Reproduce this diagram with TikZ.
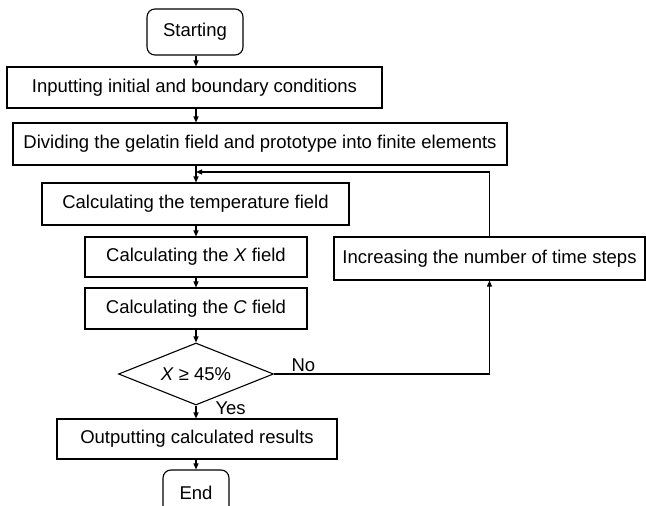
\documentclass[tikz,border=0pt]{standalone}
\usepackage{fontspec}
\setmainfont{Liberation Sans}
\usetikzlibrary{arrows.meta,shapes.geometric,positioning}

\begin{document}
\begin{tikzpicture}[x=1pt, y=-1pt, line width=1.1pt,
    every node/.style={font=\fontsize{18.5}{22}\selectfont},
    box/.style={draw, rectangle, inner sep=0pt},
    term/.style={box, rounded corners=8pt},
    cond/.style={draw, diamond, aspect=2.5, inner sep=0pt, minimum width=155pt, minimum height=62pt},
    tag/.style={inner sep=2pt},
    arr/.style={-{Triangle[length=6pt, width=5pt]}}]

    \useasboundingbox (0,0) rectangle (646,506);
    \coordinate (col) at (196,0);

    \node[term, minimum width=96pt, minimum height=46pt] (start) at (195,32) {Starting};
    \node[box, minimum width=375pt, minimum height=41pt] (input) at (194.5,87.5) {Inputting initial and boundary conditions};
    \node[box, minimum width=494pt, minimum height=42pt] (divide) at (260,144) {Dividing the gelatin field and prototype into finite elements};
    \node[box, minimum width=307pt, minimum height=42pt] (temp) at (195.5,204) {Calculating the temperature field};
    \node[box, minimum width=222pt, minimum height=40pt] (xfield) at (196,257) {Calculating the \textit{X} field};
    \node[box, minimum width=222pt, minimum height=41pt] (cfield) at (196,308.5) {Calculating the \textit{C} field};
    \node[box, minimum width=311pt, minimum height=43pt] (incr) at (489.5,258.5) {Increasing the number of time steps};
    \node[cond] (check) at (196,374) {\textit{X} ≥ 45\%};
    \node[box, minimum width=280pt, minimum height=40pt] (output) at (197,439) {Outputting calculated results};
    \node[term, minimum width=66pt, minimum height=46pt] (stop) at (196,493) {End};

    \foreach \a/\b in {start/input, input/divide, divide/temp, temp/xfield, xfield/cfield, cfield/check, check/output, output/stop}
        \draw[arr] (\a.south -| col) -- (\b.north -| col);

    % loop back
    \coordinate (back) at (196,172);
    \draw[arr] (incr.north) |- (back);
    \draw[arr] (check.east) -| (incr.south);

    \node[tag, above right=0pt and 15pt of check.east] (no) {No};
    \node[tag, right=17pt of check.south, yshift=-3pt] (yes) {Yes};
\end{tikzpicture}
\end{document}
